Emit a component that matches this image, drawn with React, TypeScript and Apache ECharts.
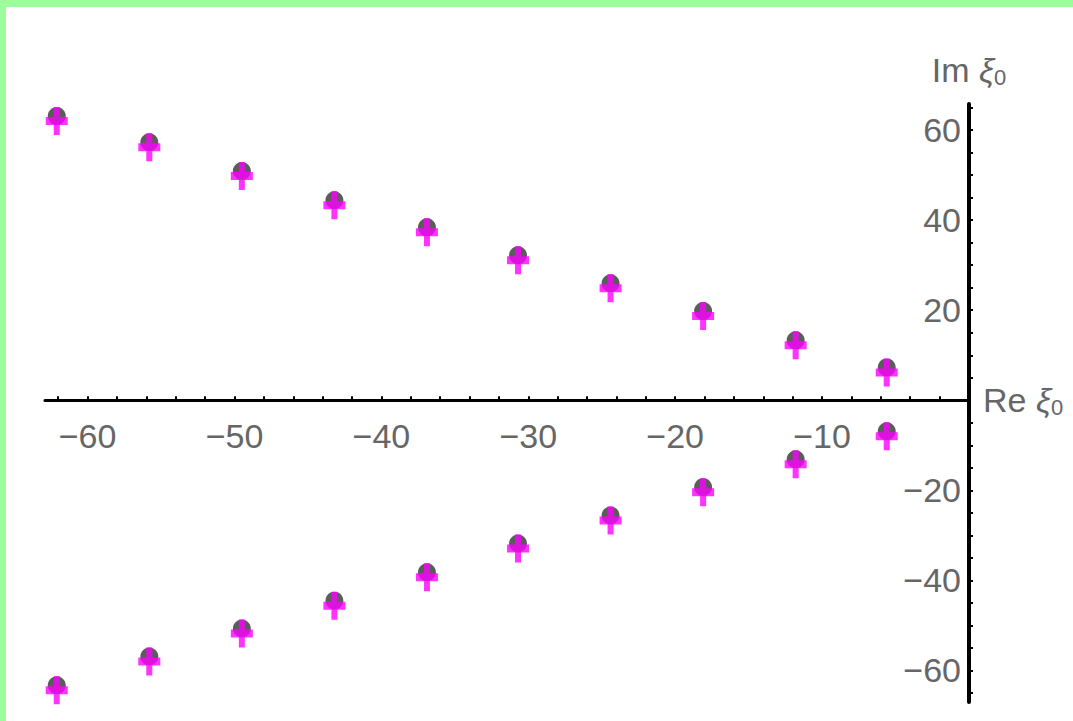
import React, { useEffect, useRef } from "react";
import * as echarts from "echarts";

// Upper branch zeros (Re, Im)
const reUpper = [-62.1, -55.8, -49.5, -43.2, -36.9, -30.7, -24.4, -18.1, -11.8, -5.6];
const imUpper = [62.0, 56.2, 49.8, 43.3, 37.3, 31.1, 24.9, 18.7, 12.2, 6.2];
// Lower branch zeros (Re, Im)
const reLower = [-62.1, -55.8, -49.5, -43.2, -36.9, -30.7, -24.4, -18.1, -11.8, -5.6];
const imLower = [-64.4, -58.0, -51.8, -45.6, -39.3, -32.9, -26.7, -20.4, -14.2, -8.0];

const xLabelValues = [-60, -50, -40, -30, -20, -10];
const xTickValues = [-62, -60, -58, -56, -54, -52, -50, -48, -46, -44, -42, -40, -38, -36, -34, -32, -30, -28, -26, -24, -22, -20, -18, -16, -14, -12, -10, -8, -6, -4, -2];
const yLabelValues = [-60, -40, -20, 20, 40, 60];
const yTickValues = [-65, -60, -55, -50, -45, -40, -35, -30, -25, -20, -15, -10, -5, 5, 10, 15, 20, 25, 30, 35, 40, 45, 50, 55, 60, 65];

const W = 1073;
const H = 721;
const GRID_TOP = 104;
const GRID_BOTTOM_Y = 702;
const X_MIN = -62.9;
const Y_MIN = -67;
const Y_MAX = 65.8;
const FONT = "'Liberation Sans', Arial, sans-serif";
const LABEL_COLOR = "#666";

const fmt = (v: number) => (v < 0 ? "\u2212" + Math.abs(v) : String(v));

const plusPath = "path://M8,0H14V10H22V18H14V28H8V18H0V10H8Z";

export default function App() {
  const ref = useRef<HTMLDivElement>(null);

  useEffect(() => {
    if (!ref.current) return;
    const chart = echarts.init(ref.current, null, { renderer: "svg" });

    const upper = reUpper.map((x, i) => [x, imUpper[i]]);
    const lower = reLower.map((x, i) => [x, imLower[i]]);
    const all = upper.concat(lower);

    // x axis sits at Im = 0: shift it up from the grid bottom by the scale distance
    const gridH = GRID_BOTTOM_Y - GRID_TOP;
    const zeroFromBottom = ((0 - Y_MIN) / (Y_MAX - Y_MIN)) * gridH;

    const nameRich = {
      n: { fontSize: 34, color: LABEL_COLOR, fontFamily: FONT },
      g: { fontSize: 34, color: LABEL_COLOR, fontFamily: FONT, fontStyle: "italic" },
      s: { fontSize: 22, color: LABEL_COLOR, fontFamily: FONT, padding: [14, 0, 0, 0] },
    };

    chart.setOption({
      animation: false,
      backgroundColor: "#ffffff",
      graphic: [
        { type: "rect", left: 0, top: 0, shape: { x: 0, y: 0, width: W, height: 7 }, style: { fill: "#9cfd9c" }, z: 100 },
        { type: "rect", left: 0, top: 0, shape: { x: 0, y: 0, width: 6, height: H }, style: { fill: "#9cfd9c" }, z: 100 },
      ],
      grid: {
        left: 45,
        right: W - 969,
        top: GRID_TOP,
        bottom: H - GRID_BOTTOM_Y,
        containLabel: false,
        outerBoundsMode: "none",
      },
      xAxis: {
        type: "value",
        min: X_MIN,
        max: 0,
        position: "bottom",
        offset: -zeroFromBottom,
        name: "{n|Re }{g|ξ}{s|0}",
        nameLocation: "end",
        nameGap: 14,
        nameTextStyle: { rich: nameRich, verticalAlign: "middle", align: "left" },
        axisLine: { show: true, onZero: false, lineStyle: { color: "#000", width: 3 } },
        axisTick: { show: true, inside: true, length: 4, customValues: xTickValues, lineStyle: { color: "#000", width: 2 } },
        axisLabel: {
          show: true,
          customValues: xLabelValues,
          formatter: fmt,
          margin: 19,
          fontSize: 34,
          fontFamily: FONT,
          color: LABEL_COLOR,
        },
        splitLine: { show: false },
      },
      yAxis: {
        type: "value",
        min: Y_MIN,
        max: Y_MAX,
        position: "right",
        name: "{n|Im }{g|ξ}{s|0}",
        nameLocation: "end",
        nameGap: 16,
        nameTextStyle: { rich: nameRich, align: "center", verticalAlign: "bottom" },
        axisLine: { show: true, onZero: false, lineStyle: { color: "#000", width: 4 } },
        axisTick: { show: true, inside: false, length: 4, customValues: yTickValues, lineStyle: { color: "#000", width: 2 } },
        axisLabel: {
          show: true,
          inside: true,
          customValues: yLabelValues,
          formatter: fmt,
          margin: 8,
          fontSize: 34,
          fontFamily: FONT,
          color: LABEL_COLOR,
        },
        splitLine: { show: false },
      },
      series: [
        {
          type: "scatter",
          data: all,
          symbol: "circle",
          symbolSize: 18,
          symbolOffset: [0, -5],
          itemStyle: { color: "#333" },
          z: 3,
        },
        {
          type: "scatter",
          data: all,
          symbol: plusPath,
          symbolSize: [22, 28],
          itemStyle: { color: "#ff00ff" },
          z: 4,
        },
      ],
    });

    return () => chart.dispose();
  }, []);

  return (
    <div
      ref={ref}
      style={{ position: "fixed", left: 0, top: 0, width: W, height: H, background: "#fff" }}
    />
  );
}
